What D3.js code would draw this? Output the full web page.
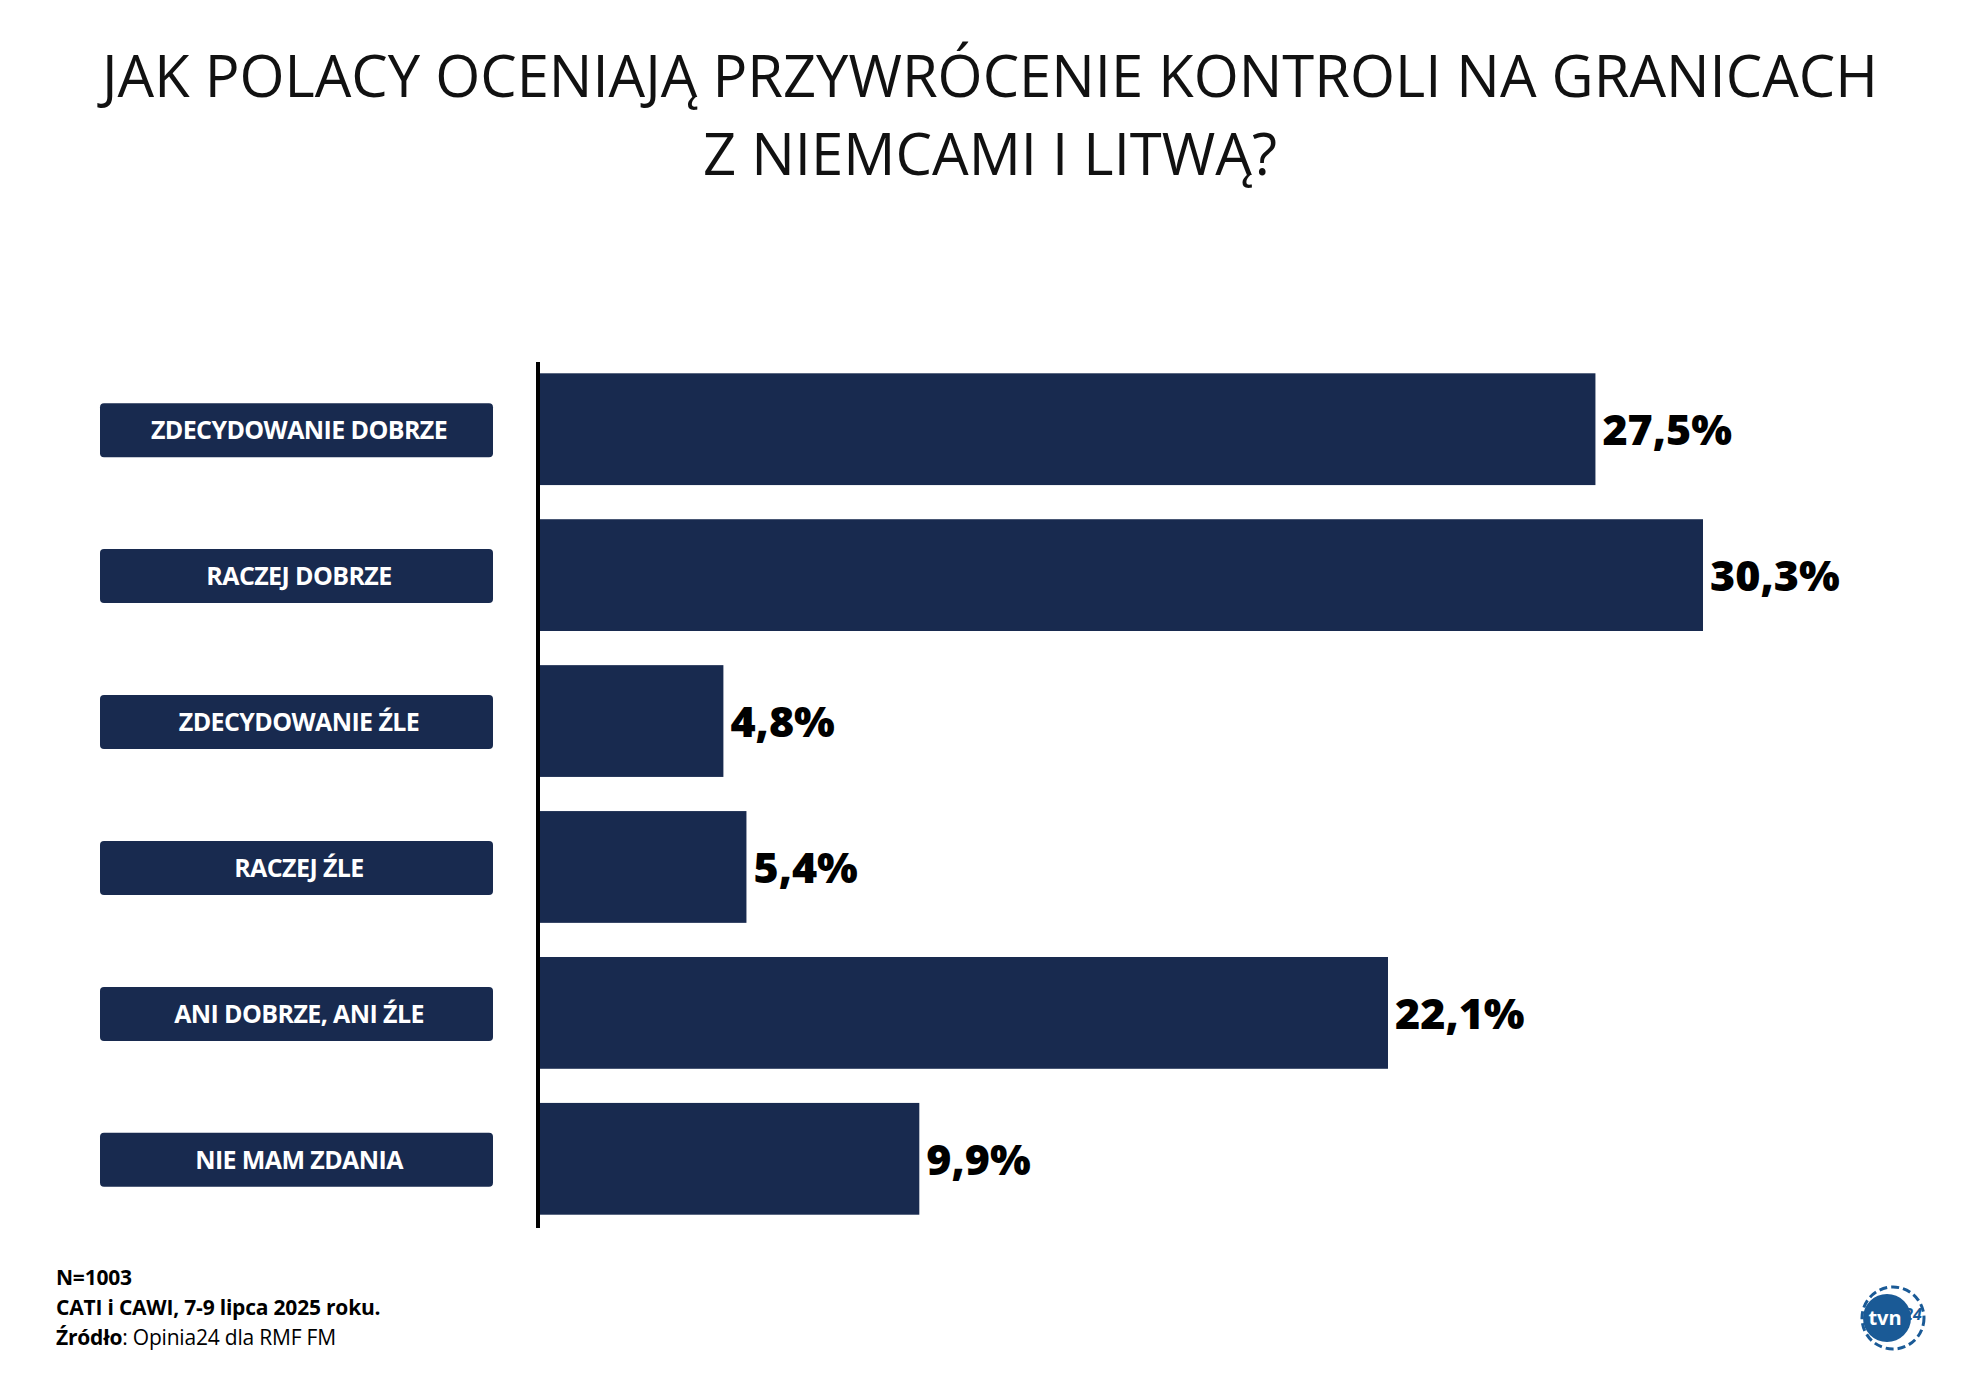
<!DOCTYPE html>
<html><head><meta charset="utf-8">
<script src="https://cdn.jsdelivr.net/npm/d3@7"></script>
<style>body{margin:0;background:#fff}svg{display:block}</style>
</head><body>
<script>
const categories = ["ZDECYDOWANIE DOBRZE","RACZEJ DOBRZE","ZDECYDOWANIE ŹLE","RACZEJ ŹLE","ANI DOBRZE, ANI ŹLE","NIE MAM ZDANIA"];
const values = [27.5, 30.3, 4.8, 5.4, 22.1, 9.9];
const valueLabels = ["27,5%","30,3%","4,8%","5,4%","22,1%","9,9%"];
const titleLines = ["JAK POLACY OCENIAJĄ PRZYWRÓCENIE KONTROLI NA GRANICACH","Z NIEMCAMI I LITWĄ?"];
const footer = [["N=1003",""],["CATI i CAWI, 7-9 lipca 2025 roku.",""],["Źródło",": Opinia24 dla RMF FM"]];

const W=1980,H=1395, navy="#182a4f";
const svg=d3.select("body").append("svg").attr("width",W).attr("height",H);
const F="'Open Sans', sans-serif";

svg.selectAll("text.title").data(titleLines).join("text")
  .attr("x",W/2).attr("y",(d,i)=>97+i*78).attr("text-anchor","middle")
  .attr("font-family",F).attr("font-size",58).attr("fill","#111")
  .attr("textLength",(d,i)=>i==0?1776:null).attr("lengthAdjust","spacingAndGlyphs")
  .text(d=>d);

const x=d3.scaleLinear().domain([0,30.3]).range([539,1703]);
const y=d3.scaleBand().domain(categories).range([366,1222]).paddingInner(0.234).paddingOuter(0.05);

svg.selectAll("rect.bar").data(values).join("rect")
  .attr("x",x(0)).attr("y",(d,i)=>y(categories[i])).attr("width",d=>x(d)-x(0))
  .attr("height",y.bandwidth()).attr("fill",navy);

svg.append("line").attr("x1",538).attr("x2",538).attr("y1",362).attr("y2",1228)
  .attr("stroke","#000").attr("stroke-width",4);

svg.selectAll("text.val").data(values).join("text")
  .attr("x",d=>x(d)+7).attr("y",(d,i)=>y(categories[i])+y.bandwidth()/2+16)
  .attr("font-family",F).attr("font-weight",800).attr("font-size",43).attr("fill","#000")
  .text((d,i)=>valueLabels[i]);

const g=svg.selectAll("g.lab").data(categories).join("g")
  .attr("transform",d=>`translate(100,${y(d)+y.bandwidth()/2-26})`);
g.append("rect").attr("width",393).attr("height",54).attr("rx",4).attr("fill",navy);
g.append("text").attr("x",199).attr("y",36).attr("text-anchor","middle")
  .attr("font-family",F).attr("font-weight",700).attr("font-size",25).attr("fill","#fff")
  .attr("letter-spacing",-0.6).text(d=>d);

const ft=svg.selectAll("text.ft").data(footer).join("text")
  .attr("x",56).attr("y",(d,i)=>1285+i*30).attr("font-family",F).attr("font-size",21)
  .attr("letter-spacing",-0.2).attr("fill","#000");
ft.append("tspan").attr("font-weight",700).text(d=>d[0]);
ft.append("tspan").text(d=>d[1]);

// logo
const lg=svg.append("g").attr("transform","translate(1893,1318)");
lg.append("circle").attr("r",31).attr("fill","none").attr("stroke","#1a5a96").attr("stroke-width",3).attr("stroke-dasharray","8 4");
lg.append("circle").attr("cx",-6).attr("r",24).attr("fill","#1a5a96");
lg.append("text").attr("x",-8).attr("y",7).attr("text-anchor","middle").attr("font-family",F)
  .attr("font-weight",700).attr("font-size",20).attr("fill","#fff").text("tvn");
lg.append("text").attr("x",20).attr("y",2).attr("text-anchor","middle").attr("font-family",F)
  .attr("font-weight",700).attr("font-style","italic").attr("font-size",16).attr("fill","#1a5a96").text("24");
</script>
</body></html>
